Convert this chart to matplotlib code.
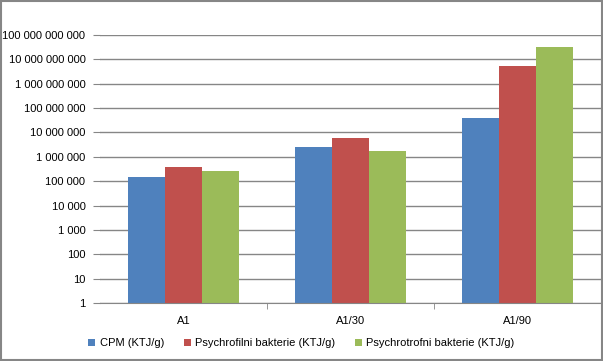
import numpy as np
import matplotlib.pyplot as plt
from matplotlib.ticker import FixedLocator, FuncFormatter, NullFormatter
from matplotlib.patches import Rectangle

plt.rcParams["font.family"] = ["Liberation Sans", "DejaVu Sans"]

groups = ["A1", "A1/30", "A1/90"]
series = ["CPM (KTJ/g)", "Psychrofilni bakterie (KTJ/g)", "Psychrotrofni bakterie (KTJ/g)"]
cpm = [1.5e5, 2.5e6, 3.8e7]
psychrofilni = [3.8e5, 5.9e6, 5.5e9]
psychrotrofni = [2.6e5, 1.7e6, 3.2e10]
colors = ["#4F81BD", "#C0504D", "#9BBB59"]
grid_c = "#868686"

fig = plt.figure(figsize=(6.03, 3.61), dpi=100)
ax = fig.add_axes([100 / 603, 58 / 361, 501 / 603, 268 / 361])

x = np.arange(len(groups))
w = 1 / 4.5
for i, (vals, lab) in enumerate(zip([cpm, psychrofilni, psychrotrofni], series)):
    ax.bar(x + (i - 1) * w, vals, width=w, color=colors[i], label=lab, zorder=2)

ax.set_yscale("log")
ax.set_ylim(1, 1e11)
ax.set_xlim(-0.5, 2.5)
ax.yaxis.set_major_locator(FixedLocator([10.0 ** k for k in range(12)]))
ax.yaxis.set_minor_formatter(NullFormatter())
ax.yaxis.set_minor_locator(FixedLocator([]))
ax.yaxis.set_major_formatter(FuncFormatter(lambda v, p: f"{int(round(v)):,}".replace(",", " ")))
ax.grid(axis="y", color=grid_c, linewidth=1, zorder=0)
ax.tick_params(axis="y", length=5, color=grid_c, labelsize=8, pad=5.5)

ax.set_xticks(x)
ax.set_xticklabels(groups)
ax.tick_params(axis="x", which="major", length=0, labelsize=8, pad=9)
ax.set_xticks([0.5, 1.5], minor=True)
ax.tick_params(axis="x", which="minor", length=4, color=grid_c)

for s in ["left", "top", "right"]:
    ax.spines[s].set_visible(False)
ax.spines["bottom"].set_color(grid_c)

fig.legend(loc="center", bbox_to_anchor=(0.5, 1 - 343 / 361), ncol=3, frameon=False,
           fontsize=8, handlelength=0.6, handleheight=0.6, handletextpad=0.4, columnspacing=1.8)

fig.patches.append(Rectangle((0.001, 0.002), 0.997, 0.995, transform=fig.transFigure,
                             fill=False, edgecolor=grid_c, linewidth=1.5))

fig.savefig("out.png", dpi=100)
